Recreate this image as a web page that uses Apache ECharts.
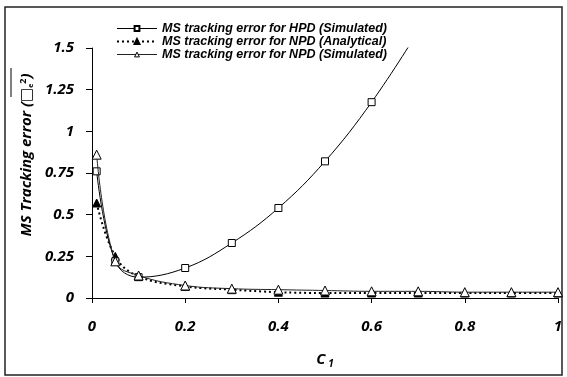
<!DOCTYPE html>
<html>
<head>
<meta charset="utf-8">
<script src="https://cdn.jsdelivr.net/npm/echarts@6/dist/echarts.min.js"></script>
<style>
  html, body { margin: 0; padding: 0; background: #fff; }
  #chart { width: 567px; height: 377px; }
</style>
</head>
<body>
<div id="chart"></div>
<script>
// C1 values
const c1 = [0.01, 0.05, 0.1, 0.2, 0.3, 0.4, 0.5, 0.6, 0.7, 0.8, 0.9, 1];
const hpdC1 = [0.01, 0.05, 0.1, 0.2, 0.3, 0.4, 0.5, 0.6, 0.7];
const hpdSim = [0.76, 0.22, 0.125, 0.18, 0.33, 0.54, 0.82, 1.175, 1.6];
const npdAna = [0.57, 0.25, 0.13, 0.07, 0.05, 0.035, 0.03, 0.03, 0.03, 0.03, 0.03, 0.03];
const npdSim = [0.86, 0.22, 0.135, 0.075, 0.056, 0.05, 0.045, 0.04, 0.04, 0.035, 0.035, 0.035];
const seriesNames = [
  'MS tracking error for HPD (Simulated)',
  'MS tracking error for NPD (Analytical)',
  'MS tracking error for NPD (Simulated)'
];
const xTicks = [0, 0.2, 0.4, 0.6, 0.8, 1];
const yTicks = [0, 0.25, 0.5, 0.75, 1, 1.25, 1.5];

const pair = (xs, ys) => xs.map((x, i) => [x, ys[i]]);
const labelFont = {
  fontFamily: 'Open Sans',
  fontWeight: 'bold',
  fontStyle: 'italic',
  fontSize: 15,
  color: '#000'
};

const chart = echarts.init(document.getElementById('chart'));
chart.setOption({
  animation: false,
  backgroundColor: '#fff',
  grid: { left: 92, right: 9, top: 48, bottom: 79 },
  legend: {
    orient: 'vertical',
    left: 111,
    top: 17,
    itemWidth: 40,
    itemHeight: 6,
    itemGap: 0,
    textStyle: {
      fontFamily: 'Liberation Sans',
      fontWeight: 'bold',
      fontStyle: 'italic',
      fontSize: 12.5,
      lineHeight: 12,
      color: '#000'
    },
    data: [
      { name: seriesNames[0], lineStyle: { width: 1 } },
      { name: seriesNames[1], lineStyle: { width: 2 } },
      { name: seriesNames[2], lineStyle: { width: 1 }, itemStyle: { color: '#fff', borderColor: '#000', borderWidth: 1 } }
    ]
  },
  xAxis: {
    type: 'value',
    min: 0,
    max: 1,
    interval: 0.2,
    name: '{c|C}{s| 1}',
    nameLocation: 'middle',
    nameGap: 53,
    nameTextStyle: {
      rich: {
        c: { fontFamily: 'Open Sans', fontWeight: 'bold', fontStyle: 'italic', fontSize: 15, color: '#000' },
        s: { fontFamily: 'Open Sans', fontWeight: 'bold', fontStyle: 'italic', fontSize: 10, color: '#000', padding: [8, 0, 0, 0] }
      }
    },
    axisLine: { lineStyle: { color: '#000', width: 1 } },
    axisTick: { show: true, length: 5, lineStyle: { color: '#000' } },
    axisLabel: Object.assign({ margin: 21, formatter: v => String(+v.toFixed(2)) }, labelFont),
    splitLine: { show: false }
  },
  yAxis: {
    type: 'value',
    min: 0,
    max: 1.5,
    interval: 0.25,
    axisLine: { show: true, lineStyle: { color: '#000', width: 1 } },
    axisTick: { show: true, length: 6, lineStyle: { color: '#000' } },
    axisLabel: Object.assign({ margin: 18, formatter: v => String(+v.toFixed(2)) }, labelFont),
    splitLine: { show: false }
  },
  graphic: [
    {
      type: 'rect',
      shape: { x: 5, y: 7, width: 557, height: 368 },
      style: { fill: 'none', stroke: '#222', lineWidth: 1.5 },
      silent: true
    },
    {
      type: 'text',
      x: 27,
      y: 155,
      rotation: Math.PI / 2,
      style: {
        text: '{t|MS Tracking error (}{b|□}{e|e}{p|2}{t|)}',
        align: 'center',
        verticalAlign: 'middle',
        rich: {
          t: { fontFamily: 'Open Sans', fontWeight: 'bold', fontStyle: 'italic', fontSize: 15, fill: '#000' },
          b: { fontFamily: 'DejaVu Sans', fontStyle: 'italic', fontSize: 15, fill: '#000' },
          e: { fontFamily: 'Open Sans', fontWeight: 'bold', fontSize: 7, fill: '#000', padding: [8, 0, 0, 0] },
          p: { fontFamily: 'Open Sans', fontWeight: 'bold', fontSize: 9, fill: '#000', padding: [0, 0, 8, 0] }
        }
      }
    },
    {
      type: 'line',
      shape: { x1: 11, y1: 68, x2: 11, y2: 97 },
      style: { stroke: '#000', lineWidth: 1 }
    }
  ],
  series: [
    {
      name: seriesNames[0],
      type: 'line',
      smooth: 0.4,
      data: pair(hpdC1, hpdSim),
      symbol: 'rect',
      symbolSize: 7,
      lineStyle: { color: '#000', width: 1 },
      itemStyle: { color: '#fff', borderColor: '#000', borderWidth: 1 },
      z: 3
    },
    {
      name: seriesNames[1],
      type: 'line',
      smooth: 0.4,
      data: pair(c1, npdAna),
      symbol: 'triangle',
      symbolSize: 8,
      lineStyle: { color: '#000', width: 2, type: [2, 3] },
      itemStyle: { color: '#000', borderColor: '#000', borderWidth: 1 },
      z: 2
    },
    {
      name: seriesNames[2],
      type: 'line',
      smooth: 0.4,
      data: pair(c1, npdSim),
      symbol: 'triangle',
      symbolSize: 9,
      lineStyle: { color: '#222', width: 1 },
      itemStyle: { color: '#fff', borderColor: '#000', borderWidth: 1 },
      z: 4
    }
  ]
});
</script>
</body>
</html>
